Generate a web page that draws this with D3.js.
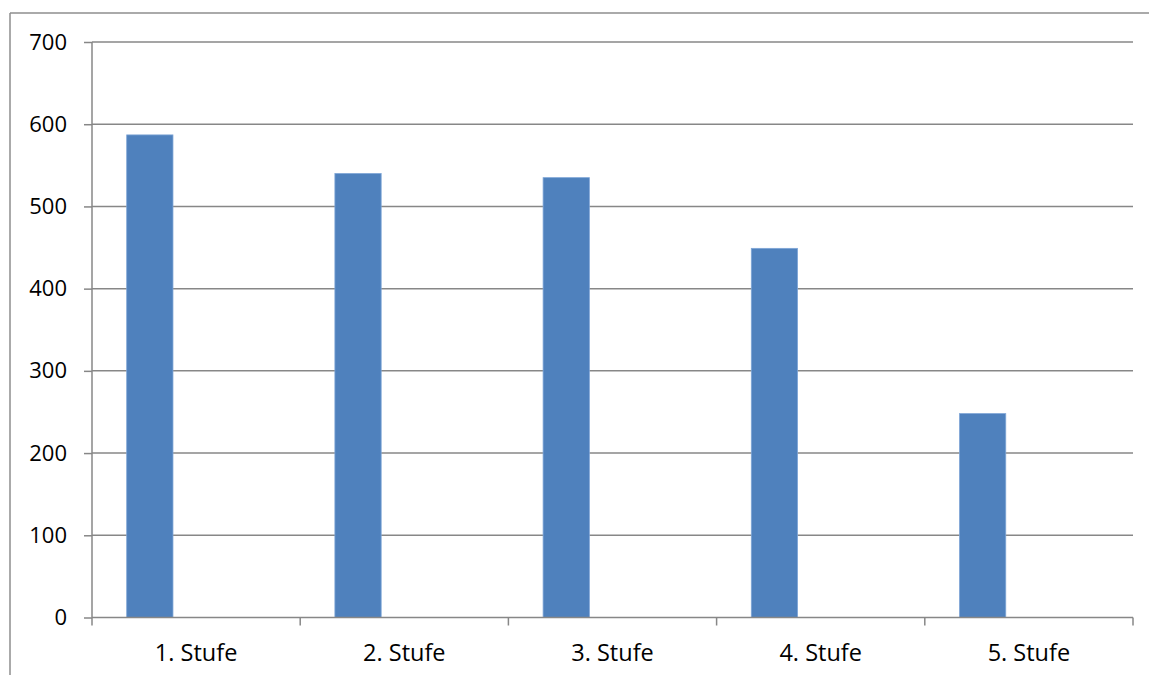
<!DOCTYPE html>
<html><head><meta charset="utf-8">
<script src="https://cdn.jsdelivr.net/npm/d3@7"></script>
<style>html,body{margin:0;padding:0;background:#fff;}svg{display:block;}</style>
</head><body>
<svg id="c" width="1149" height="675"></svg>
<script>
const categories = ["1. Stufe", "2. Stufe", "3. Stufe", "4. Stufe", "5. Stufe"];
const series1 = [587, 540, 535, 449, 248];
const series2 = [null, null, null, null, null];
const series3 = [null, null, null, null, null];
const yTicks = [0, 100, 200, 300, 400, 500, 600, 700];

(function () {
const svg = d3.select("#c");
const W = 1149, H = 675;
const mLeft = 92, mRight = 1133, mTop = 42, mBottom = 617.5;
const font = "'Open Sans', sans-serif";
const gridColor = "#878787";
const gw = 1.5;

// outer frame (top and left visible)
svg.append("line").attr("x1", 10).attr("x2", W).attr("y1", 13).attr("y2", 13)
  .attr("stroke", "#8e8e8e").attr("stroke-width", 1.5);
svg.append("line").attr("x1", 10).attr("x2", 10).attr("y1", 13).attr("y2", H)
  .attr("stroke", "#8e8e8e").attr("stroke-width", 1.5);

const x = d3.scaleBand().domain(categories).range([mLeft, mRight]).paddingInner(0).paddingOuter(0);
const seriesList = [series1, series2, series3];
const xs = d3.scaleBand().domain(d3.range(seriesList.length)).range([0, x.bandwidth()])
  .paddingInner(0).paddingOuter(0.75);
const y = d3.scaleLinear().domain([0, 700]).range([mBottom, mTop]);

// gridlines
svg.append("g").selectAll("line").data(yTicks.filter(d => d > 0)).join("line")
  .attr("x1", mLeft).attr("x2", mRight)
  .attr("y1", d => y(d)).attr("y2", d => y(d))
  .attr("stroke", gridColor).attr("stroke-width", gw);

// bars
seriesList.forEach((s, si) => {
  svg.append("g").selectAll("rect").data(s.map((v, i) => ({v, c: categories[i]})).filter(d => d.v != null))
    .join("rect")
    .attr("x", d => x(d.c) + xs(si))
    .attr("width", xs.bandwidth())
    .attr("y", d => y(d.v))
    .attr("height", d => y(0) - y(d.v))
    .attr("fill", "#4F81BD")
    .attr("stroke", "#7ea5d6").attr("stroke-width", 0.8);
});

// y axis
const yAxis = d3.axisLeft(y).tickValues(yTicks).tickSize(8).tickPadding(17).tickFormat(d3.format("d"));
const gy = svg.append("g").attr("transform", `translate(${mLeft},0)`).call(yAxis);
gy.select(".domain").attr("stroke", gridColor).attr("stroke-width", gw).attr("d", `M0,${mTop}V${mBottom}`);
gy.selectAll(".tick line").attr("stroke", gridColor).attr("stroke-width", gw);
gy.selectAll("text").attr("font-family", font).attr("font-size", 22).attr("fill", "#000");

// x axis
const gx = svg.append("g").attr("transform", `translate(0,${mBottom})`);
gx.append("line").attr("x1", mLeft).attr("x2", mRight).attr("stroke", gridColor).attr("stroke-width", gw);
const boundaries = categories.map(c => x(c)).concat([x(categories[categories.length - 1]) + x.bandwidth()]);
gx.selectAll("line.tk").data(boundaries).join("line").attr("class", "tk")
  .attr("x1", d => d).attr("x2", d => d)
  .attr("y1", 0).attr("y2", 8).attr("stroke", gridColor).attr("stroke-width", gw);
gx.selectAll("text").data(categories).join("text")
  .attr("x", d => x(d) + x.bandwidth() / 2).attr("y", 43)
  .attr("text-anchor", "middle").attr("font-family", font).attr("font-size", 23.5).attr("fill", "#000")
  .text(d => d);
})();
</script>
</body></html>
